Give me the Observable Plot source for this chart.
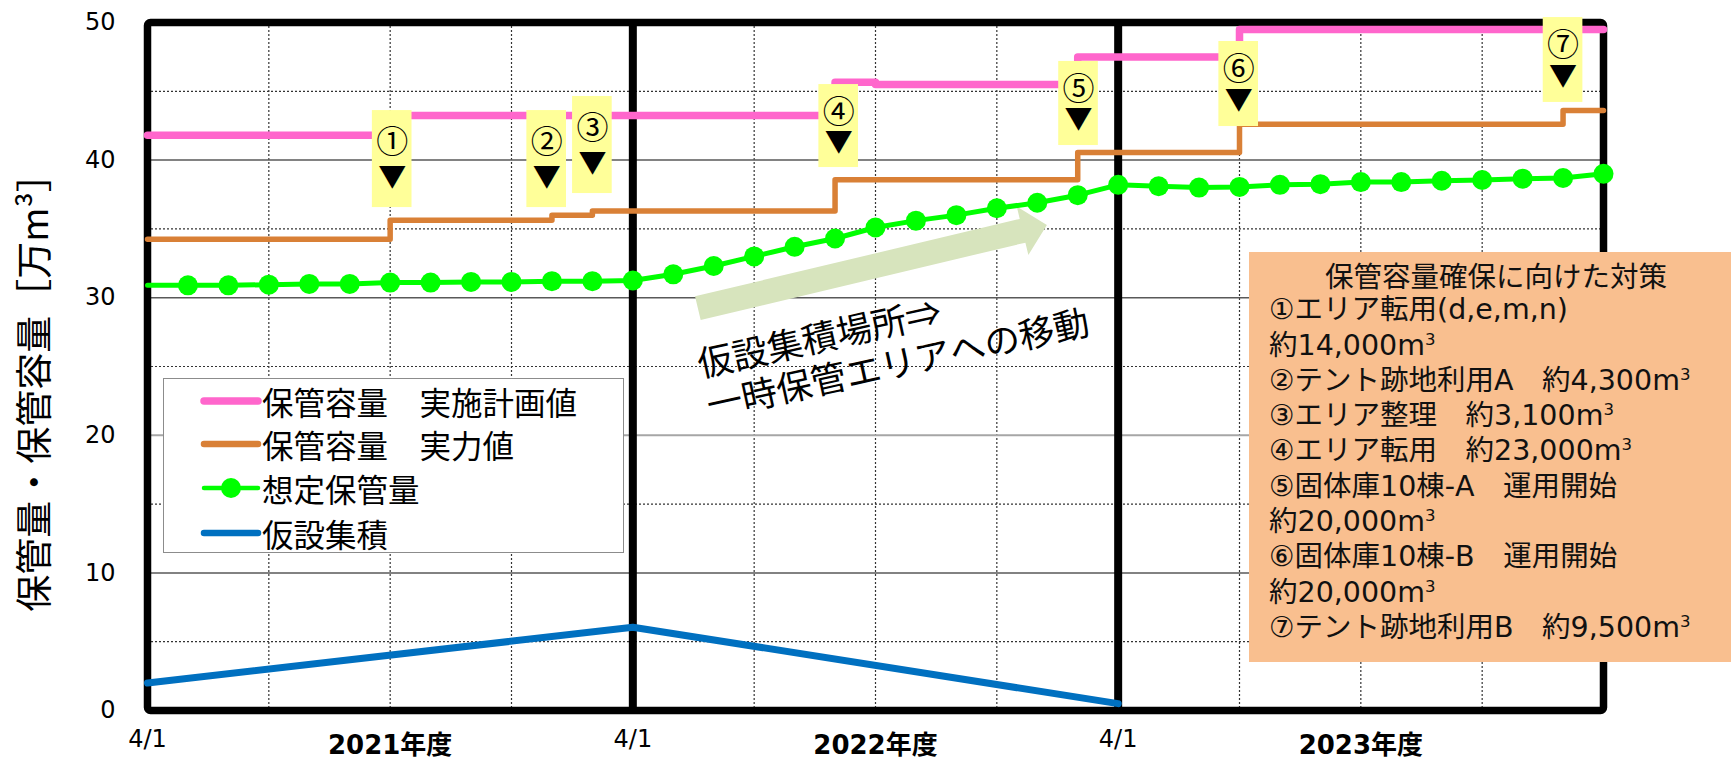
<!DOCTYPE html>
<html><head><meta charset="utf-8">
<script src="https://cdn.jsdelivr.net/npm/d3@7"></script>
<script src="https://cdn.jsdelivr.net/npm/@observablehq/plot@0.6"></script>
<style>
html,body{margin:0;padding:0;background:#fff;}
#wrap{position:relative;width:1731px;height:768px;overflow:hidden;}
#wrap > svg{position:absolute;left:0;top:0;}
.legend{position:absolute;left:163px;top:378px;width:461px;height:175px;border:1.5px solid #8c8c8c;background:#fff;box-sizing:border-box;font-family:"Noto Sans CJK JP","Noto Sans",sans-serif;font-size:31.5px;color:#000;}
.legend .row{position:absolute;left:0;width:100%;height:40px;line-height:40px;white-space:pre;}
.legend .row svg{position:absolute;left:36px;top:8px;}
.legend .row span{position:absolute;left:98px;top:0;}
.measures{position:absolute;left:1249px;top:252px;width:482px;height:410px;background:#F9BF8F;box-sizing:border-box;padding:5px 0 0 20px;font-family:"DejaVu Sans","Noto Sans CJK JP",sans-serif;font-size:28.5px;line-height:35.3px;color:#111;white-space:pre;}
.measures .title{text-align:center;padding-right:8px;font-family:"Noto Sans CJK JP",sans-serif;}
.measures sup{font-size:0.58em;line-height:0;vertical-align:0.62em;}
</style></head><body><div id="wrap"></div>
<script>
// ---------- data ----------
const months = d3.range(0, 37);
const storedVolume = [30.9,30.9,30.9,30.95,31.0,31.0,31.1,31.1,31.15,31.15,31.2,31.2,31.25,
  31.7,32.3,33.0,33.7,34.3,35.1,35.6,36.0,36.5,36.9,37.45,38.2,
  38.1,38.0,38.05,38.2,38.25,38.4,38.4,38.5,38.55,38.65,38.7,39.0];
const planMonths = [0,6,17,18,23,27,36];
const planValues = [41.8,43.25,45.65,45.5,47.5,49.5,49.5];
const actualMonths = [0,6,10,11,17,23,27,35,36];
const actualValues = [34.25,35.63,36.0,36.3,38.57,40.56,42.6,43.6,43.6];
const tempMonths = [0,12,24];
const tempValues = [2.0,6.05,0.5];

const markerLabels = ["①","②","③","④","⑤","⑥","⑦"];
const markerMonths = [6.05,9.87,11.0,17.09,23.02,26.98,35.0];
const markerTops = [43.6,43.6,44.62,45.49,47.17,48.62,50.36];
const markerBottoms = [36.55,36.55,37.57,39.46,41.06,42.44,44.19];

const arrowMonths = [13.62,22.25];
const arrowValues = [29.2,35.25];
const arrowTextLines = ["仮設集積場所⇒","一時保管エリアへの移動"];
const arrowTextMonths = [13.62,13.85];
const arrowTextValues = [25.0,22.02];

const yTicks = [0,10,20,30,40,50];
const yGridMajor = [10,30,40];
const yGridMid = [20];
const yGridMinor = [5,15,25,35,45];
const xGridQuarter = [3,6,9,15,18,21,27,30,33];
const yearDividers = [12,24];
const yearStarts = [0,12,24];
const yearStartLabels = ["4/1","4/1","4/1"];
const yearCenters = [6,18,30];
const yearLabels = ["2021年度","2022年度","2023年度"];
const yTitle = "保管量・保管容量［万m³］";

const legendNames = ["保管容量　実施計画値","保管容量　実力値","想定保管量","仮設集積"];
const legendColors = ["#FF66CC","#D98036","#00FF00","#0070C0"];

const measureTitle = "保管容量確保に向けた対策";
const measureLines = ["①エリア転用(d,e,m,n)","約14,000m³","②テント跡地利用A　約4,300m³","③エリア整理　約3,100m³",
  "④エリア転用　約23,000m³","⑤固体庫10棟-A　運用開始","約20,000m³","⑥固体庫10棟-B　運用開始","約20,000m³","⑦テント跡地利用B　約9,500m³"];

// ---------- tables ----------
const stored = months.map((m,i)=>({month:m, value:storedVolume[i]}));
const plan = planMonths.map((m,i)=>({month:m, value:planValues[i]}));
const actual = actualMonths.map((m,i)=>({month:m, value:actualValues[i]}));
const temp = tempMonths.map((m,i)=>({month:m, value:tempValues[i]}));
const markers = markerLabels.map((l,i)=>({label:l, month:markerMonths[i], top:markerTops[i], bottom:markerBottoms[i]}));
const arrowText = arrowTextLines.map((t,i)=>({text:t, month:arrowTextMonths[i], value:arrowTextValues[i]}));

const fontCJK = '"Noto Sans CJK JP","Noto Sans",sans-serif';
const fontNum = '"DejaVu Sans","Noto Sans CJK JP",sans-serif';

function arrowMark(index, scales) {
  const s = (scales && typeof scales.x === "function") ? scales : index;
  const x1 = s.x(arrowMonths[0]), y1 = s.y(arrowValues[0]);
  const x2 = s.x(arrowMonths[1]), y2 = s.y(arrowValues[1]);
  const dx = x2-x1, dy = y2-y1, L = Math.hypot(dx,dy);
  const ux = dx/L, uy = dy/L, nx = -uy, ny = ux;
  const bw = 12.2, hw = 25, hl = 25;
  const bx = x2-ux*hl, by = y2-uy*hl;
  const pts = [[x1+nx*bw,y1+ny*bw],[bx+nx*bw,by+ny*bw],[bx+nx*hw,by+ny*hw],[x2,y2],
               [bx-nx*hw,by-ny*hw],[bx-nx*bw,by-ny*bw],[x1-nx*bw,y1-ny*bw]];
  const p = document.createElementNS("http://www.w3.org/2000/svg","path");
  p.setAttribute("d","M"+pts.map(q=>q[0].toFixed(2)+","+q[1].toFixed(2)).join("L")+"Z");
  p.setAttribute("fill","#D7E4BD");
  return p;
}

const chart = Plot.plot({
  width:1731, height:768,
  marginLeft:147, marginRight:128, marginTop:22, marginBottom:58,
  x:{domain:[0,36], axis:null},
  y:{domain:[0,50], axis:null},
  style:{background:"transparent", fontFamily:fontNum, overflow:"visible"},
  marks:[
    Plot.ruleY(yGridMinor,{stroke:"#333", strokeWidth:1.2, strokeDasharray:"2,2"}),
    Plot.ruleX(xGridQuarter,{stroke:"#333", strokeWidth:1.2, strokeDasharray:"2,2"}),
    Plot.ruleY(yGridMajor,{stroke:"#595959", strokeWidth:1.5}),
    Plot.ruleY(yGridMid,{stroke:"#A6A6A6", strokeWidth:2}),
    Plot.ruleX(yearDividers,{stroke:"#000", strokeWidth:8}),
    Plot.frame({stroke:"#000", strokeWidth:7.5, rx:3}),
    arrowMark,
    Plot.text(arrowText,{x:"month", y:"value", text:"text", rotate:-12.5, textAnchor:"start", fontSize:35.5, fontFamily:fontCJK, fill:"#000"}),
    Plot.line(temp,{x:"month", y:"value", stroke:"#0070C0", strokeWidth:7, strokeLinecap:"round"}),
    Plot.line(stored,{x:"month", y:"value", stroke:"#00FF00", strokeWidth:5}),
    Plot.dot(stored.filter(d=>d.month>0),{x:"month", y:"value", r:10, fill:"#00FF00", stroke:"none"}),
    Plot.line(actual,{x:"month", y:"value", curve:"step-after", stroke:"#D98036", strokeWidth:5.5, strokeLinecap:"round"}),
    Plot.line(plan,{x:"month", y:"value", curve:"step-after", stroke:"#FF66CC", strokeWidth:7.5, strokeLinecap:"round"}),
    Plot.rect(markers,{x1:d=>d.month-0.49, x2:d=>d.month+0.49, y1:"bottom", y2:"top", fill:"#FFFF99"}),
    Plot.text(markers,{x:"month", y:d=>d.top-(d.top-d.bottom)*0.335, text:"label", fontSize:32, fontFamily:fontCJK, fill:"#000"}),
    Plot.text(markers,{x:"month", y:d=>d.top-(d.top-d.bottom)*0.70, text:()=>"▼", fontSize:28, fontFamily:fontCJK, fill:"#000"}),
    Plot.text(yTicks,{y:d=>d, frameAnchor:"left", dx:-32, textAnchor:"end", text:d=>String(d), fontSize:24, fill:"#000"}),
    Plot.text(yearStarts,{x:d=>d, frameAnchor:"bottom", dy:36, text:(d,i)=>yearStartLabels[i], fontSize:24, fill:"#000"}),
    Plot.text(yearCenters,{x:d=>d, frameAnchor:"bottom", dy:43, text:(d,i)=>yearLabels[i], fontSize:26, fontWeight:"bold", fill:"#000"}),
    Plot.text([yTitle],{frameAnchor:"left", textAnchor:"middle", dx:-111, dy:17, rotate:-90, text:d=>d, fontSize:37, fontFamily:fontCJK, fill:"#000"})
  ]
});

const wrap = document.getElementById("wrap");
wrap.appendChild(chart);

// legend
const leg = document.createElement("div");
leg.className = "legend";
const rowCenters = [22,65,109,154];
legendNames.forEach((name,i)=>{
  const row = document.createElement("div");
  row.className = "row";
  row.style.top = (rowCenters[i]-20)+"px";
  const sw = i===0 ? 7.5 : (i===2 ? 4.5 : 6.5);
  let svg = `<svg width="64" height="24"><line x1="4" y1="12" x2="58" y2="12" stroke="${legendColors[i]}" stroke-width="${sw}" stroke-linecap="round"/>`;
  if (i===2) svg += `<circle cx="31" cy="12" r="10" fill="${legendColors[i]}"/>`;
  svg += `</svg>`;
  row.innerHTML = svg + `<span>${name}</span>`;
  leg.appendChild(row);
});
wrap.appendChild(leg);

// measures box
const box = document.createElement("div");
box.className = "measures";
const sup = t => t.replace(/³/g,"<sup>3</sup>");
box.innerHTML = `<div class="title">${measureTitle}</div>` + measureLines.map(l=>`<div>${sup(l)}</div>`).join("");
wrap.appendChild(box);
</script></body></html>
